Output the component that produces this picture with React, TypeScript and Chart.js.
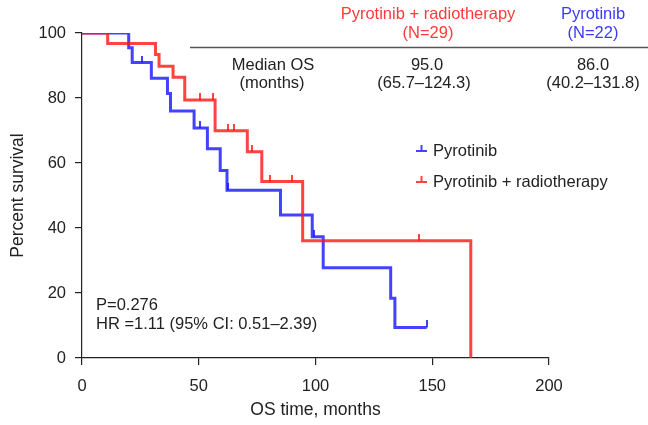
import React, { useEffect, useRef } from "react";
import { Chart, registerables } from "chart.js";

Chart.register(...registerables);

// ---- Data ----
const blueTimes = [0, 20, 21.5, 29.7, 36.6, 37.9, 48, 53.7, 59.2, 62.1, 85, 98.6, 103.3, 132.2, 134, 147.6];
const blueSurv = [100, 95.5, 90.9, 86.1, 81.4, 76.0, 70.8, 64.4, 57.7, 51.6, 44.0, 37.3, 27.8, 18.4, 9.4, 9.4];
const blueCensorTimes = [25.8, 50.4, 62.6, 99.2, 147.6];
const blueCensorSurv = [90.9, 70.8, 51.6, 37.3, 9.4];

const redTimes = [0, 11, 31.5, 33, 39, 44, 57, 70.8, 77, 94.5, 166.5];
const redSurv = [100, 96.8, 93.4, 89.8, 86.4, 79.4, 69.9, 63.5, 54.3, 36.1, 0];
const redCensorTimes = [50.6, 56.2, 62.4, 65, 73, 80.4, 90, 144.4];
const redCensorSurv = [79.4, 79.4, 69.9, 69.9, 63.5, 54.3, 54.3, 36.1];

const xTicksStep = 50;
const yTicksStep = 20;

const RED = "rgba(255,25,25,0.82)";
const BLUE = "rgba(25,25,255,0.82)";
const RED_TEXT = "#ff3a3a";
const BLUE_TEXT = "#3a3aff";
const FONT = '"Liberation Sans", Arial, Helvetica, sans-serif';

function censorMark(color: string): HTMLCanvasElement {
  const c = document.createElement("canvas");
  c.width = 2;
  c.height = 14;
  const g = c.getContext("2d")!;
  g.fillStyle = color;
  g.fillRect(0, 0, 2, 7);
  return c;
}

const annotations = {
  id: "annotations",
  afterDraw(chart: any) {
    const ctx = chart.ctx as CanvasRenderingContext2D;
    ctx.save();
    ctx.font = `16.5px ${FONT}`;
    ctx.textAlign = "center";
    ctx.textBaseline = "middle";
    // header
    ctx.fillStyle = RED_TEXT;
    ctx.fillText("Pyrotinib + radiotherapy", 428, 14);
    ctx.fillText("(N=29)", 428, 33);
    ctx.fillStyle = BLUE_TEXT;
    ctx.fillText("Pyrotinib", 593, 14);
    ctx.fillText("(N=22)", 593, 33);
    // rule
    ctx.strokeStyle = "#555";
    ctx.lineWidth = 1.5;
    ctx.beginPath();
    ctx.moveTo(190, 47.5);
    ctx.lineTo(648, 47.5);
    ctx.stroke();
    // rows
    ctx.fillStyle = "#222";
    ctx.fillText("Median OS", 273, 65);
    ctx.fillText("(months)", 272, 83);
    ctx.fillText("95.0", 427, 65);
    ctx.fillText("(65.7\u2013124.3)", 424, 83);
    ctx.fillText("86.0", 593, 65);
    ctx.fillText("(40.2\u2013131.8)", 593, 83);
    // P / HR
    ctx.textAlign = "left";
    ctx.fillText("P=0.276", 96, 305);
    ctx.fillText("HR =1.11 (95% CI: 0.51\u20132.39)", 96, 324);
    // legend
    const items = [
      { label: "Pyrotinib", color: BLUE, y: 151 },
      { label: "Pyrotinib + radiotherapy", color: RED, y: 182 },
    ];
    for (const it of items) {
      ctx.strokeStyle = it.color;
      ctx.lineWidth = 2;
      ctx.beginPath();
      ctx.moveTo(416, it.y);
      ctx.lineTo(427, it.y);
      ctx.moveTo(421.5, it.y);
      ctx.lineTo(421.5, it.y - 6);
      ctx.stroke();
      ctx.fillStyle = "#222";
      ctx.fillText(it.label, 433, it.y);
    }
    ctx.restore();
  },
};

export default function App() {
  const ref = useRef<HTMLCanvasElement | null>(null);
  useEffect(() => {
    if (!ref.current) return;
    Chart.defaults.font.family = FONT;
    const blueLine = blueTimes.map((t, i) => ({ x: t, y: blueSurv[i] }));
    const redLine = redTimes.map((t, i) => ({ x: t, y: redSurv[i] }));
    const blueCens = blueCensorTimes.map((t, i) => ({ x: t, y: blueCensorSurv[i] }));
    const redCens = redCensorTimes.map((t, i) => ({ x: t, y: redCensorSurv[i] }));
    const chart = new Chart(ref.current, {
      type: "line",
      data: {
        datasets: [
          { label: "Pyrotinib + radiotherapy", data: redLine, borderColor: RED, borderWidth: 3, stepped: true, pointRadius: 0, fill: false, order: 2 } as any,
          { label: "Pyrotinib", data: blueLine, borderColor: BLUE, borderWidth: 3, stepped: true, pointRadius: 0, fill: false, order: 3 } as any,
          { label: "red censored", data: redCens, showLine: false, pointStyle: censorMark(RED), pointRadius: 3, order: 0 } as any,
          { label: "blue censored", data: blueCens, showLine: false, pointStyle: censorMark(BLUE), pointRadius: 3, order: 1 } as any,
        ],
      },
      options: {
        responsive: false,
        animation: false,
        layout: { padding: { top: 33, right: 99, left: 0, bottom: 0 } },
        plugins: { legend: { display: false }, tooltip: { enabled: false } },
        scales: {
          x: {
            type: "linear",
            min: 0,
            max: 200,
            ticks: { stepSize: xTicksStep, color: "#222", font: { size: 16.5 }, padding: 12, maxRotation: 0 },
            grid: { drawOnChartArea: false, drawTicks: true, tickLength: 7, color: "#222", lineWidth: 1.2 },
            border: { display: true, color: "#222", width: 1.2 },
            title: { display: true, text: "OS time, months", color: "#222", font: { size: 17.5 }, padding: { top: 0, bottom: 4 } },
            afterFit: (s: any) => { s.height = 67; },
          },
          y: {
            type: "linear",
            min: 0,
            max: 100,
            ticks: { stepSize: yTicksStep, color: "#222", font: { size: 16.5 }, padding: 9 },
            grid: { drawOnChartArea: false, drawTicks: true, tickLength: 7, color: "#222", lineWidth: 1.2 },
            border: { display: true, color: "#222", width: 1.2 },
            title: { display: true, text: "Percent survival", color: "#222", font: { size: 17.5 }, padding: { top: 8, bottom: 0 } },
            afterFit: (s: any) => { s.width = 82; },
          },
        },
      },
      plugins: [annotations],
    });
    return () => chart.destroy();
  }, []);
  return (
    <div style={{ position: "fixed", left: 0, top: 0, width: 648, height: 425, background: "#fff" }}>
      <canvas ref={ref} width={648} height={425} style={{ display: "block", width: 648, height: 425 }} />
    </div>
  );
}
